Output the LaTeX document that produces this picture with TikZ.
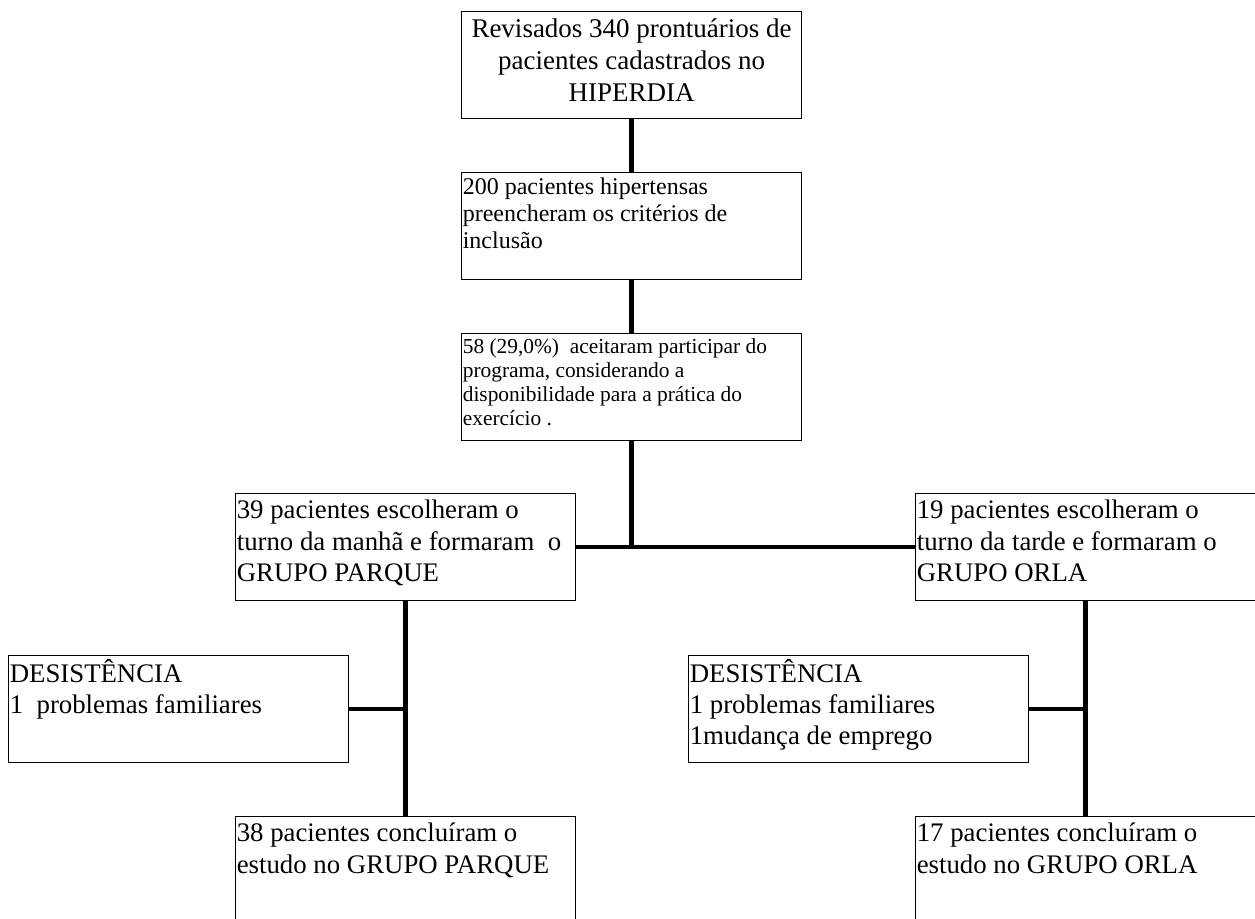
\documentclass[tikz,border=0pt]{standalone}
\usepackage{fontspec}
\setmainfont{Liberation Serif}

\tikzset{
  caixa/.style={draw, line width=0.6pt, inner xsep=0.6pt, inner ysep=0.5pt, anchor=north west},
  liga/.style={line width=2.2pt},
}
\newcommand{\ctxt}[2]{\parbox[t][52.5pt][t]{168.8pt}{\vspace*{1.2pt}\raggedright#1\strut #2}}

\begin{document}
\begin{tikzpicture}[x=0.5pt, y=-0.5pt]
\useasboundingbox (0,0) rectangle (1255,918);

% triagem
\node[caixa] (rev)  at (461, 11) {\ctxt{\fontsize{13.5}{16}\selectfont\centering}{Revisados 340 prontuários de\\pacientes cadastrados no\\HIPERDIA}};
\node[caixa] (incl) at (461,172) {\ctxt{\fontsize{12}{13.5}\selectfont}{200 pacientes hipertensas\\preencheram os critérios de\\inclusão}};
\node[caixa] (acc)  at (461,333) {\ctxt{\fontsize{10.7}{12}\selectfont}{58 (29,0\%)~~aceitaram participar do\\programa, considerando a\\disponibilidade para a prática do\\exercício .}};

% grupos
\node[caixa] (gP) at (235,493) {\ctxt{\fontsize{13.4}{15.7}\selectfont}{39 pacientes escolheram o\\turno da manhã e formaram~~o\\GRUPO PARQUE}};
\node[caixa] (gO) at (915,493) {\ctxt{\fontsize{13.4}{15.7}\selectfont}{19 pacientes escolheram o\\turno da tarde e formaram o\\GRUPO ORLA}};

% desistencias
\node[caixa] (dP) at (8,655)   {\ctxt{\fontsize{13.4}{15.5}\selectfont}{DESISTÊNCIA\\1~~problemas familiares}};
\node[caixa] (dO) at (688,655) {\ctxt{\fontsize{13.4}{15.5}\selectfont}{DESISTÊNCIA\\1 problemas familiares\\1mudança de emprego}};

% concluintes
\node[caixa] (cP) at (235,816) {\ctxt{\fontsize{13.4}{15.7}\selectfont}{38 pacientes concluíram o\\estudo no GRUPO PARQUE}};
\node[caixa] (cO) at (915,816) {\ctxt{\fontsize{13.4}{15.7}\selectfont}{17 pacientes concluíram o\\estudo no GRUPO ORLA}};

\draw[liga] (rev) -- (incl);
\draw[liga] (incl) -- (acc);
\draw[liga] (acc.south) -- (acc.south |- gP.east);
\draw[liga] (gP.east) -- (gO.west);
\draw[liga] (gP) -- (cP);
\draw[liga] (gO) -- (cO);
\draw[liga] (dP.east) -- (gP.south |- dP.east);
\draw[liga] (dO.east) -- (gO.south |- dO.east);
\end{tikzpicture}
\end{document}
